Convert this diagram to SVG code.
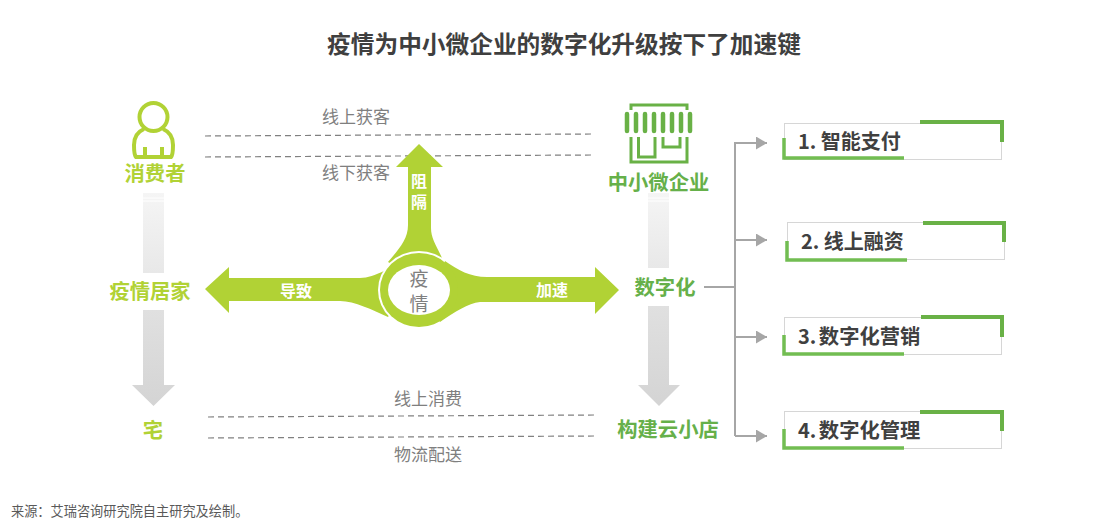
<svg xmlns="http://www.w3.org/2000/svg" width="1103" height="523" viewBox="0 0 1103 523">
<style>
text{font-family:"Noto Sans CJK SC","Liberation Sans",sans-serif}
.lime{font-size:20.300px;font-weight:700;fill:#b1d235;text-anchor:middle}
.grn{font-size:20.300px;font-weight:700;fill:#66b04a;text-anchor:middle}
.gray{font-size:17px;fill:#7f7f7f;text-anchor:middle}
.wht{font-size:16px;font-weight:700;fill:#fff;text-anchor:middle}
.item{font-size:20px;font-weight:700;fill:#404040}
.box{fill:#fff;stroke:#d6d6d6;stroke-width:1}
.cg{fill:none;stroke:#69b146;stroke-width:4}
.cl{fill:none;stroke:#72bd52;stroke-width:3.500}
.dash{fill:none;stroke:#808080;stroke-width:1.200;stroke-dasharray:6 4}
.conn{fill:none;stroke:#a6a6a6;stroke-width:2}
.st{fill:none;stroke:#69b146;stroke-width:3}
</style>
<defs>
<marker id="ah" markerUnits="userSpaceOnUse" markerWidth="12" markerHeight="14" refX="11" refY="6.500" orient="auto"><path d="M0 0L11 6.500L0 13Z" fill="#a6a6a6"/></marker>
<linearGradient id="ga" x1="0" y1="0" x2="0" y2="1"><stop offset="0" stop-color="#f5f5f5"/><stop offset="1" stop-color="#e8e8e8"/></linearGradient>
<linearGradient id="gb" x1="0" y1="0" x2="0" y2="1"><stop offset="0" stop-color="#e0e0e0"/><stop offset="1" stop-color="#d4d4d4"/></linearGradient>
</defs>
<text id="title" x="564" y="53" text-anchor="middle" font-size="23.700" font-weight="700" fill="#3f3f3f">疫情为中小微企业的数字化升级按下了加速键</text>
<g id="connectors">
<path class="dash" d="M205 136L592 134"/>
<path class="dash" d="M205 157L592 155"/>
<path class="dash" d="M208 417L595 415"/>
<path class="dash" d="M208 438L595 436"/>
<path class="conn" d="M704 287H735"/>
<path class="conn" d="M735 436V143H767" marker-end="url(#ah)"/>
<path class="conn" d="M735 240H767" marker-end="url(#ah)"/>
<path class="conn" d="M735 337H767" marker-end="url(#ah)"/>
<path class="conn" d="M735 436H767" marker-end="url(#ah)"/>
</g>
<g id="flow-left" fill="none">
<path d="M143 193H164V273H143Z" fill="url(#ga)"/>
<path d="M143 198H164M143 201H164" stroke="#fff" stroke-width="1"/>
<path d="M143 310H164V385H175L153.500 406L132 385H143Z" fill="url(#gb)"/>
</g>
<g id="flow-right" fill="none">
<path d="M648 193H669V268H648Z" fill="url(#ga)"/>
<path d="M648 198H669M648 201H669" stroke="#fff" stroke-width="1"/>
<path d="M648 306H669V385H680L659 406L638 385H648Z" fill="url(#gb)"/>
</g>
<g id="consumer">
<g fill="none" stroke="#b1d235" stroke-width="4">
<circle cx="153.500" cy="117" r="14"/>
<path d="M144 129C137 132 134 138 134 145C134 150 134 155 136 157H145V147M145 157H162M162 157V147M162 157H171C173 155 173 150 173 145C173 138 170 132 163 129"/>
</g>
<text class="lime" x="155" y="181">消费者</text>
</g>
<text id="home-label" class="lime" x="150" y="299">疫情居家</text>
<text id="zhai" class="lime" x="153" y="438">宅</text>
<g id="smb">
<path class="st" d="M631 110V105H687V110"/>
<g stroke="#69b146" stroke-width="4.500" stroke-linecap="round">
<path d="M627 114V131M636 114V131M645 114V131M654 114V131M663 114V131M672 114V131M681 114V131M690 114V131"/>
</g>
<path class="st" d="M631 137V162H687V137"/>
<path class="st" d="M638.500 137V157H655V137"/>
<path class="st" d="M663 137V147H680V137"/>
<text class="grn" x="658.500" y="190">中小微企业</text>
</g>
<text id="digital" class="grn" x="665" y="295">数字化</text>
<text id="store" class="grn" x="668" y="437">构建云小店</text>
<g id="epidemic">
<path fill="#b1d235" d="M419 144L443 167H431V228C431 238 436 245 442 258L419 280L388 262C398 250 408 240 408 225V167H396Z"/>
<path fill="#b1d235" d="M205 289L229 267V278H360C368 278 375 275 384 271L400 300L388 317C372 310 355 301 340 301H229V313Z"/>
<ellipse cx="419" cy="290" rx="41" ry="39" fill="#fff"/>
<path fill="#b1d235" d="M445 261C458 270 470 277 487 277H595V267L619 290L595 314V302H480C468 303 455 312 440 322L430 300Z"/>
<ellipse cx="419" cy="290" rx="39" ry="37" fill="#b1d235"/>
<ellipse cx="419" cy="290" rx="31" ry="25" fill="#fff"/>
<text x="419" y="286" font-size="19" fill="#7f7f7f" text-anchor="middle">疫</text>
<text x="419" y="311" font-size="19" fill="#7f7f7f" text-anchor="middle">情</text>
<text class="wht" x="296" y="297">导致</text>
<text class="wht" x="552" y="296">加速</text>
<text x="419" y="173" font-size="16" font-weight="700" fill="#fff" style="writing-mode:vertical-rl;letter-spacing:5px">阻隔</text>
</g>
<text class="gray" x="356" y="123">线上获客</text>
<text class="gray" x="356" y="179">线下获客</text>
<text class="gray" x="428" y="405">线上消费</text>
<text class="gray" x="428" y="461">物流配送</text>
<g id="item1">
<rect class="box" x="784.500" y="123.500" width="217" height="36"/>
<path class="cg" d="M920 122H1002V142"/>
<path class="cl" d="M784 138V158H904"/>
<text class="item" x="798" y="149">1. 智能支付</text>
</g>
<g id="item2">
<rect class="box" x="787.500" y="222.500" width="217" height="37"/>
<path class="cg" d="M923 223H1004V242"/>
<path class="cl" d="M787 241V260H907"/>
<text class="item" x="801" y="249">2. 线上融资</text>
</g>
<g id="item3">
<rect class="box" x="784.500" y="317.500" width="217" height="37"/>
<path class="cg" d="M921 317H1002V337"/>
<path class="cl" d="M784 335V354H904"/>
<text class="item" x="798" y="344">3. <tspan dx="-2" font-size="20.300">数字化营销</tspan></text>
</g>
<g id="item4">
<rect class="box" x="784.500" y="411.500" width="217" height="37"/>
<path class="cg" d="M920 412H1002V431"/>
<path class="cl" d="M784 429V448H904"/>
<text class="item" x="798" y="438">4. <tspan dx="-2" font-size="20.300">数字化管理</tspan></text>
</g>
<text id="source" x="11" y="516" font-size="13.200" fill="#595959">来源&#xFF1A;艾瑞咨询研究院自主研究及绘制。</text>
</svg>
